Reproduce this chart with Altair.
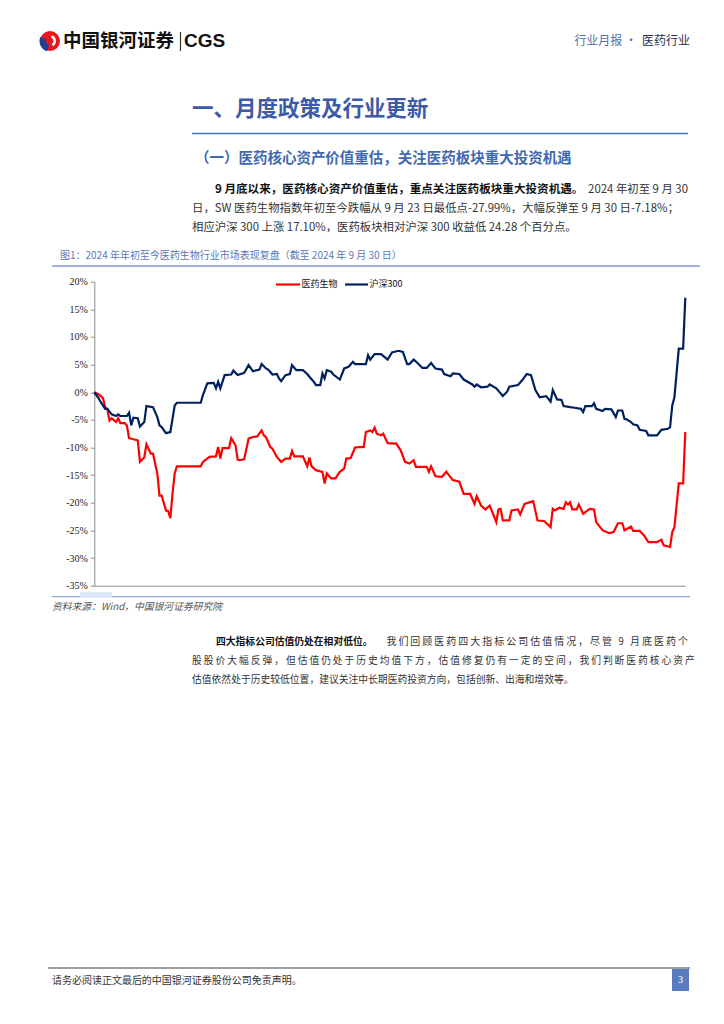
import altair as alt
import pandas as pd

# ---------------- data ----------------
red_name = "医药生物"
blue_name = "沪深300"

red_dates = ["2024-01-02","2024-01-04","2024-01-05","2024-01-06","2024-01-07","2024-01-08","2024-01-09","2024-01-10",
             "2024-01-12","2024-01-13","2024-01-14","2024-01-16","2024-01-17","2024-01-18","2024-01-20","2024-01-22",
             "2024-01-23","2024-01-25","2024-01-26","2024-01-28","2024-01-29","2024-01-31","2024-02-01","2024-02-02",
             "2024-02-04","2024-02-05","2024-02-06","2024-02-07","2024-02-08","2024-02-09","2024-02-20","2024-02-21",
             "2024-02-24","2024-02-27","2024-02-28","2024-02-29","2024-03-01","2024-03-04","2024-03-05","2024-03-07",
             "2024-03-08","2024-03-09","2024-03-11","2024-03-13","2024-03-15","2024-03-17","2024-03-19","2024-03-20",
             "2024-03-21","2024-03-23","2024-03-24","2024-03-26","2024-03-28","2024-03-30","2024-04-01","2024-04-02",
             "2024-04-03","2024-04-07","2024-04-09","2024-04-10","2024-04-11","2024-04-13","2024-04-16","2024-04-17",
             "2024-04-18","2024-04-20","2024-04-22","2024-04-24","2024-04-26","2024-04-27","2024-04-29","2024-05-01",
             "2024-05-05","2024-05-06","2024-05-08","2024-05-09","2024-05-10","2024-05-11","2024-05-13","2024-05-14",
             "2024-05-16","2024-05-20","2024-05-22","2024-05-24","2024-05-26","2024-05-28","2024-05-29","2024-06-03",
             "2024-06-04","2024-06-05","2024-06-07","2024-06-10","2024-06-12","2024-06-15","2024-06-18","2024-06-20",
             "2024-06-23","2024-06-25","2024-06-26","2024-06-28","2024-06-30","2024-07-02","2024-07-05","2024-07-06",
             "2024-07-07","2024-07-08","2024-07-11","2024-07-12","2024-07-15","2024-07-16","2024-07-18","2024-07-22",
             "2024-07-24","2024-07-27","2024-07-30","2024-07-31","2024-08-01","2024-08-03","2024-08-05","2024-08-06",
             "2024-08-07","2024-08-08","2024-08-09","2024-08-11","2024-08-12","2024-08-14","2024-08-17","2024-08-19",
             "2024-08-20","2024-08-23","2024-08-26","2024-08-28","2024-08-30","2024-09-01","2024-09-02","2024-09-05",
             "2024-09-06","2024-09-09","2024-09-11","2024-09-13","2024-09-17","2024-09-19","2024-09-20","2024-09-23",
             "2024-09-24","2024-09-25","2024-09-27","2024-09-29","2024-09-30"]
red_vals = [0.0,-0.4,-0.7,-1.1,-2.7,-3.1,-5.1,-4.7,
            -5.4,-4.7,-5.6,-5.6,-6.0,-8.3,-8.5,-8.7,
            -12.6,-11.8,-9.4,-11.1,-11.1,-14.7,-18.7,-18.7,
            -21.4,-21.5,-22.8,-18.3,-14.7,-13.4,-13.4,-12.6,
            -11.7,-11.6,-9.9,-12.0,-10.1,-10.1,-8.3,-9.6,
            -12.2,-12.3,-12.1,-8.4,-8.1,-8.0,-6.9,-7.8,
            -8.1,-9.9,-10.2,-11.7,-12.6,-12.0,-12.0,-10.6,
            -11.6,-11.6,-13.4,-11.8,-13.4,-14.1,-14.4,-16.5,
            -14.7,-15.6,-15.6,-14.4,-13.8,-12.0,-11.9,-10.0,
            -9.9,-7.2,-6.9,-7.2,-6.4,-7.5,-7.8,-7.5,
            -9.2,-9.3,-10.5,-12.6,-12.9,-12.3,-13.5,-13.5,
            -14.4,-13.4,-15.2,-15.3,-14.4,-15.9,-16.2,-18.4,
            -18.4,-20.2,-18.8,-20.5,-21.2,-20.5,-23.5,-21.2,
            -21.1,-23.2,-23.2,-21.4,-21.2,-22.1,-20.2,-19.7,
            -23.2,-23.3,-24.4,-21.1,-21.4,-20.9,-21.1,-19.9,
            -20.3,-19.9,-21.2,-21.2,-20.3,-22.0,-21.1,-21.2,
            -23.5,-25.0,-25.5,-25.3,-23.7,-23.7,-25.0,-24.3,
            -25.1,-25.1,-25.9,-27.1,-27.1,-26.7,-27.7,-27.99,
            -25.3,-24.4,-16.5,-16.5,-7.18]

blue_dates = ["2024-01-02","2024-01-04","2024-01-05","2024-01-07","2024-01-08","2024-01-10","2024-01-12","2024-01-13",
              "2024-01-14","2024-01-17","2024-01-18","2024-01-19","2024-01-20","2024-01-22","2024-01-23","2024-01-25",
              "2024-01-26","2024-01-29","2024-01-31","2024-02-01","2024-02-02","2024-02-04","2024-02-06","2024-02-07",
              "2024-02-08","2024-02-09","2024-02-20","2024-02-21","2024-02-23","2024-02-26","2024-02-27","2024-02-28",
              "2024-02-29","2024-03-02","2024-03-05","2024-03-06","2024-03-08","2024-03-11","2024-03-13","2024-03-15",
              "2024-03-18","2024-03-19","2024-03-21","2024-03-22","2024-03-24","2024-03-26","2024-03-27","2024-03-28",
              "2024-03-30","2024-04-01","2024-04-02","2024-04-04","2024-04-07","2024-04-09","2024-04-10","2024-04-12",
              "2024-04-13","2024-04-15","2024-04-16","2024-04-17","2024-04-18","2024-04-20","2024-04-21","2024-04-24",
              "2024-04-26","2024-04-28","2024-04-30","2024-05-01","2024-05-06","2024-05-07","2024-05-08","2024-05-10",
              "2024-05-13","2024-05-16","2024-05-18","2024-05-21","2024-05-23","2024-05-25","2024-05-26","2024-05-28",
              "2024-05-30","2024-06-01","2024-06-03","2024-06-05","2024-06-07","2024-06-10","2024-06-11","2024-06-14",
              "2024-06-15","2024-06-18","2024-06-20","2024-06-24","2024-06-25","2024-06-26","2024-06-28","2024-07-01",
              "2024-07-02","2024-07-05","2024-07-07","2024-07-08","2024-07-10","2024-07-11","2024-07-15","2024-07-17",
              "2024-07-19","2024-07-21","2024-07-23","2024-07-25","2024-07-28","2024-07-30","2024-07-31","2024-08-02",
              "2024-08-04","2024-08-05","2024-08-08","2024-08-10","2024-08-13","2024-08-14","2024-08-15","2024-08-18",
              "2024-08-19","2024-08-20","2024-08-23","2024-08-24","2024-08-27","2024-08-29","2024-08-30","2024-09-01",
              "2024-09-02","2024-09-03","2024-09-05","2024-09-06","2024-09-08","2024-09-09","2024-09-12","2024-09-13",
              "2024-09-17","2024-09-19","2024-09-22","2024-09-23","2024-09-24","2024-09-25","2024-09-27","2024-09-29",
              "2024-09-30"]
blue_vals = [0.0,-1.1,-1.8,-3.0,-3.0,-4.0,-4.3,-4.0,
             -4.3,-4.3,-3.7,-6.0,-4.6,-4.7,-6.2,-5.4,
             -2.5,-2.7,-4.5,-6.0,-6.3,-7.4,-7.2,-4.8,
             -2.4,-1.9,-1.9,-0.5,1.6,1.7,0.7,1.9,
             0.7,3.1,3.2,3.9,3.1,3.5,4.9,3.8,
             4.1,5.1,4.3,4.1,3.2,3.3,2.5,2.0,
             3.1,3.3,4.9,4.0,4.0,3.3,2.8,1.9,
             1.3,1.3,3.4,2.5,4.0,3.7,3.2,2.3,
             4.3,4.6,5.5,5.1,5.1,6.7,5.9,6.9,
             6.9,5.9,7.2,7.5,7.3,5.1,5.1,5.9,
             5.2,4.4,4.4,5.3,4.3,4.1,3.3,2.9,
             3.4,3.3,2.3,1.4,1.0,1.4,0.9,1.0,
             1.4,0.7,-0.2,-0.7,0.1,1.0,1.3,2.2,
             3.3,3.1,0.4,-0.9,-0.7,-1.7,0.4,-1.3,
             -1.4,-2.5,-2.7,-2.8,-3.0,-3.6,-2.5,-2.5,
             -2.0,-3.0,-3.4,-3.0,-3.1,-4.5,-3.3,-3.3,
             -4.8,-4.9,-5.4,-5.8,-6.0,-6.8,-7.0,-7.8,
             -7.8,-6.8,-6.6,-6.3,-2.4,-0.9,7.9,7.9,
             17.1]

y_ticks = [20, 15, 10, 5, 0, -5, -10, -15, -20, -25, -30, -35]
x_start = "2024-01-02"
x_end = "2024-09-30"

# ---------------- page text ----------------
logo_cn = "中国银河证券"
logo_en = "CGS"
hdr_a = "行业月报 ·"
hdr_b = "医药行业"
title_txt = "一、月度政策及行业更新"
sub_txt = "（一）医药核心资产价值重估，关注医药板块重大投资机遇"
p1_l1_bold = "9 月底以来，医药核心资产价值重估，重点关注医药板块重大投资机遇。"
p1_l1_rest = "2024 年初至 9 月 30"
p1_l2 = "日，SW 医药生物指数年初至今跌幅从 9 月 23 日最低点-27.99%，大幅反弹至 9 月 30 日-7.18%；"
p1_l3 = "相应沪深 300 上涨 17.10%，医药板块相对沪深 300 收益低 24.28 个百分点。"
caption_txt = "图1：2024 年年初至今医药生物行业市场表现复盘（截至 2024 年 9 月 30 日）"
source_txt = "资料来源：Wind，中国银河证券研究院"
p2_l1_bold = "四大指标公司估值仍处在相对低位。"
p2_l1_rest = "我们回顾医药四大指标公司估值情况，尽管 9 月底医药个"
p2_l2 = "股股价大幅反弹，但估值仍处于历史均值下方，估值修复仍有一定的空间，我们判断医药核心资产"
p2_l3 = "估值依然处于历史较低位置，建议关注中长期医药投资方向，包括创新、出海和增效等。"
footer_txt = "请务必阅读正文最后的中国银河证券股份公司免责声明。"
page_no = "3"

CJK = "Noto Sans CJK SC"
SERIF = "Liberation Serif"

# page position of the plot origin (top-left of plot area)
X0, Y0 = 94.3, 281.7
PW, PH = 591, 304


def P(x):
    return x - X0


def Q(y):
    return y - Y0


def one():
    return pd.DataFrame({"a": [0]})


def txt(s, x, y, size, color="#333333", weight="normal", align="left", font=CJK, style="normal"):
    return alt.Chart(pd.DataFrame({"t": [s]})).mark_text(
        align=align, baseline="middle", font=font, fontSize=size,
        fontWeight=weight, color=color, fontStyle=style
    ).encode(x=alt.value(P(x)), y=alt.value(Q(y)), text="t:N")


def hline(x1, x2, y, color, w):
    return alt.Chart(one()).mark_rule(color=color, strokeWidth=w).encode(
        x=alt.value(P(x1)), x2=alt.value(P(x2)), y=alt.value(Q(y)))


def vline(x, y1, y2, color, w):
    return alt.Chart(one()).mark_rule(color=color, strokeWidth=w).encode(
        x=alt.value(P(x)), y=alt.value(Q(y1)), y2=alt.value(Q(y2)))


def box(x1, x2, y1, y2, color):
    return alt.Chart(one()).mark_rect(color=color).encode(
        x=alt.value(P(x1)), x2=alt.value(P(x2)), y=alt.value(Q(y1)), y2=alt.value(Q(y2)))


def spaced(s):
    return "\u2009".join(list(s))


# ---------------- line chart ----------------
df = pd.concat([
    pd.DataFrame({"date": red_dates, "val": red_vals, "series": red_name}),
    pd.DataFrame({"date": blue_dates, "val": blue_vals, "series": blue_name}),
])

lines = alt.Chart(df).mark_line(strokeWidth=2.2).encode(
    x=alt.X("date:T", scale=alt.Scale(domain=[x_start, x_end]),
            axis=alt.Axis(labels=False, ticks=False, title=None, grid=False,
                          domainColor="#8c8c8c", domainWidth=1)),
    y=alt.Y("val:Q", scale=alt.Scale(domain=[-35, 20], nice=False),
            axis=alt.Axis(values=y_ticks, labelExpr="datum.value + '%'", title=None, grid=False,
                          labelFont=SERIF, labelFontSize=10, labelColor="#222222",
                          tickColor="#8c8c8c", domainColor="#8c8c8c", tickSize=4, labelPadding=3)),
    color=alt.Color("series:N", scale=alt.Scale(domain=[red_name, blue_name], range=["#FF0000", "#002060"]),
                    legend=None),
    detail="series:N",
)

layers = [lines]

# legend
layers += [
    hline(276, 300, 284.5, "#FF0000", 2.2),
    txt(red_name, 301.5, 284.5, 9, color="#111111"),
    hline(345, 368, 284.5, "#002060", 2.2),
    txt(blue_name, 369.5, 284.5, 9, color="#111111"),
]

# header
logo_r = alt.Chart(one()).mark_arc(color="#E8141E", radius=10, radius2=0, theta=0, theta2=6.2832).encode(
    x=alt.value(P(50)), y=alt.value(Q(41)))
logo_b = alt.Chart(one()).mark_arc(color="#1F3F93", radius=10.5, radius2=4, theta=3.4, theta2=5.1).encode(
    x=alt.value(P(50)), y=alt.value(Q(41)))
logo_w = alt.Chart(one()).mark_arc(color="#FFFFFF", radius=6, radius2=3.5, theta=0.3, theta2=2.6).encode(
    x=alt.value(P(50)), y=alt.value(Q(41)))
layers += [
    logo_r, logo_b, logo_w,
    txt(logo_cn, 63, 41, 18.5, color="#111111", weight="bold"),
    vline(180.5, 32, 51, "#333333", 1.2),
    txt(logo_en, 184, 41.5, 19, color="#111111", weight="bold", font="Liberation Sans"),
    txt(hdr_b, 690, 41, 12, color="#1f2d50", align="right"),
    txt(hdr_a, 637, 41, 12, color="#4f6fad", align="right"),
]

# title & subtitle
layers += [
    txt(title_txt, 192, 110, 21.5, color="#3c5aa6", weight="bold"),
    hline(192, 688, 133.5, "#4472C4", 1.6),
    txt(sub_txt, 195, 159, 14.5, color="#4169b0", weight="bold"),
]

# paragraph 1
layers += [
    txt(p1_l1_bold, 215, 190, 11.6, color="#111111", weight="bold"),
    txt(p1_l1_rest, 688, 190, 11.4, color="#333333", align="right"),
    txt(p1_l2, 192, 209, 11.4, color="#333333"),
    txt(p1_l3, 192, 228, 11.4, color="#333333"),
]

# figure caption and frame lines
layers += [
    txt(caption_txt, 60, 256, 10, color="#5a78b8"),
    hline(52, 700, 266, "#9fb4dc", 2),
    hline(52, 690, 596.7, "#8faadc", 1.2),
    box(80, 112, 592, 597, "#dbe7f6"),
    txt(source_txt, 52, 607, 9.8, color="#555555", style="italic"),
]

# paragraph 2
layers += [
    txt(p2_l1_bold, 216, 642, 9.8, color="#111111", weight="bold"),
    txt(spaced(p2_l1_rest), 688, 642, 10, color="#333333", align="right"),
    txt(spaced(p2_l2), 192, 661, 9.8, color="#333333"),
    txt(p2_l3, 192, 680, 9.8, color="#333333"),
]

# footer
layers += [
    hline(48, 690, 968, "#7f7f7f", 1.4),
    txt(footer_txt, 52, 981, 10, color="#333333"),
    box(672, 689, 969, 991, "#5b7bbf"),
    txt(page_no, 680.5, 980, 10, color="#FFFFFF", font=SERIF, align="center"),
]

chart = alt.layer(*layers).properties(
    width=PW, height=PH,
    autosize=alt.AutoSizeParams(type="none"),
    padding={"left": X0 - 8, "top": Y0 - 8, "right": 708 - (X0 - 8) - PW, "bottom": 420},
    background="white",
).configure_view(strokeWidth=0)

chart.save("out.html", embed_options={"renderer": "svg", "actions": False})
